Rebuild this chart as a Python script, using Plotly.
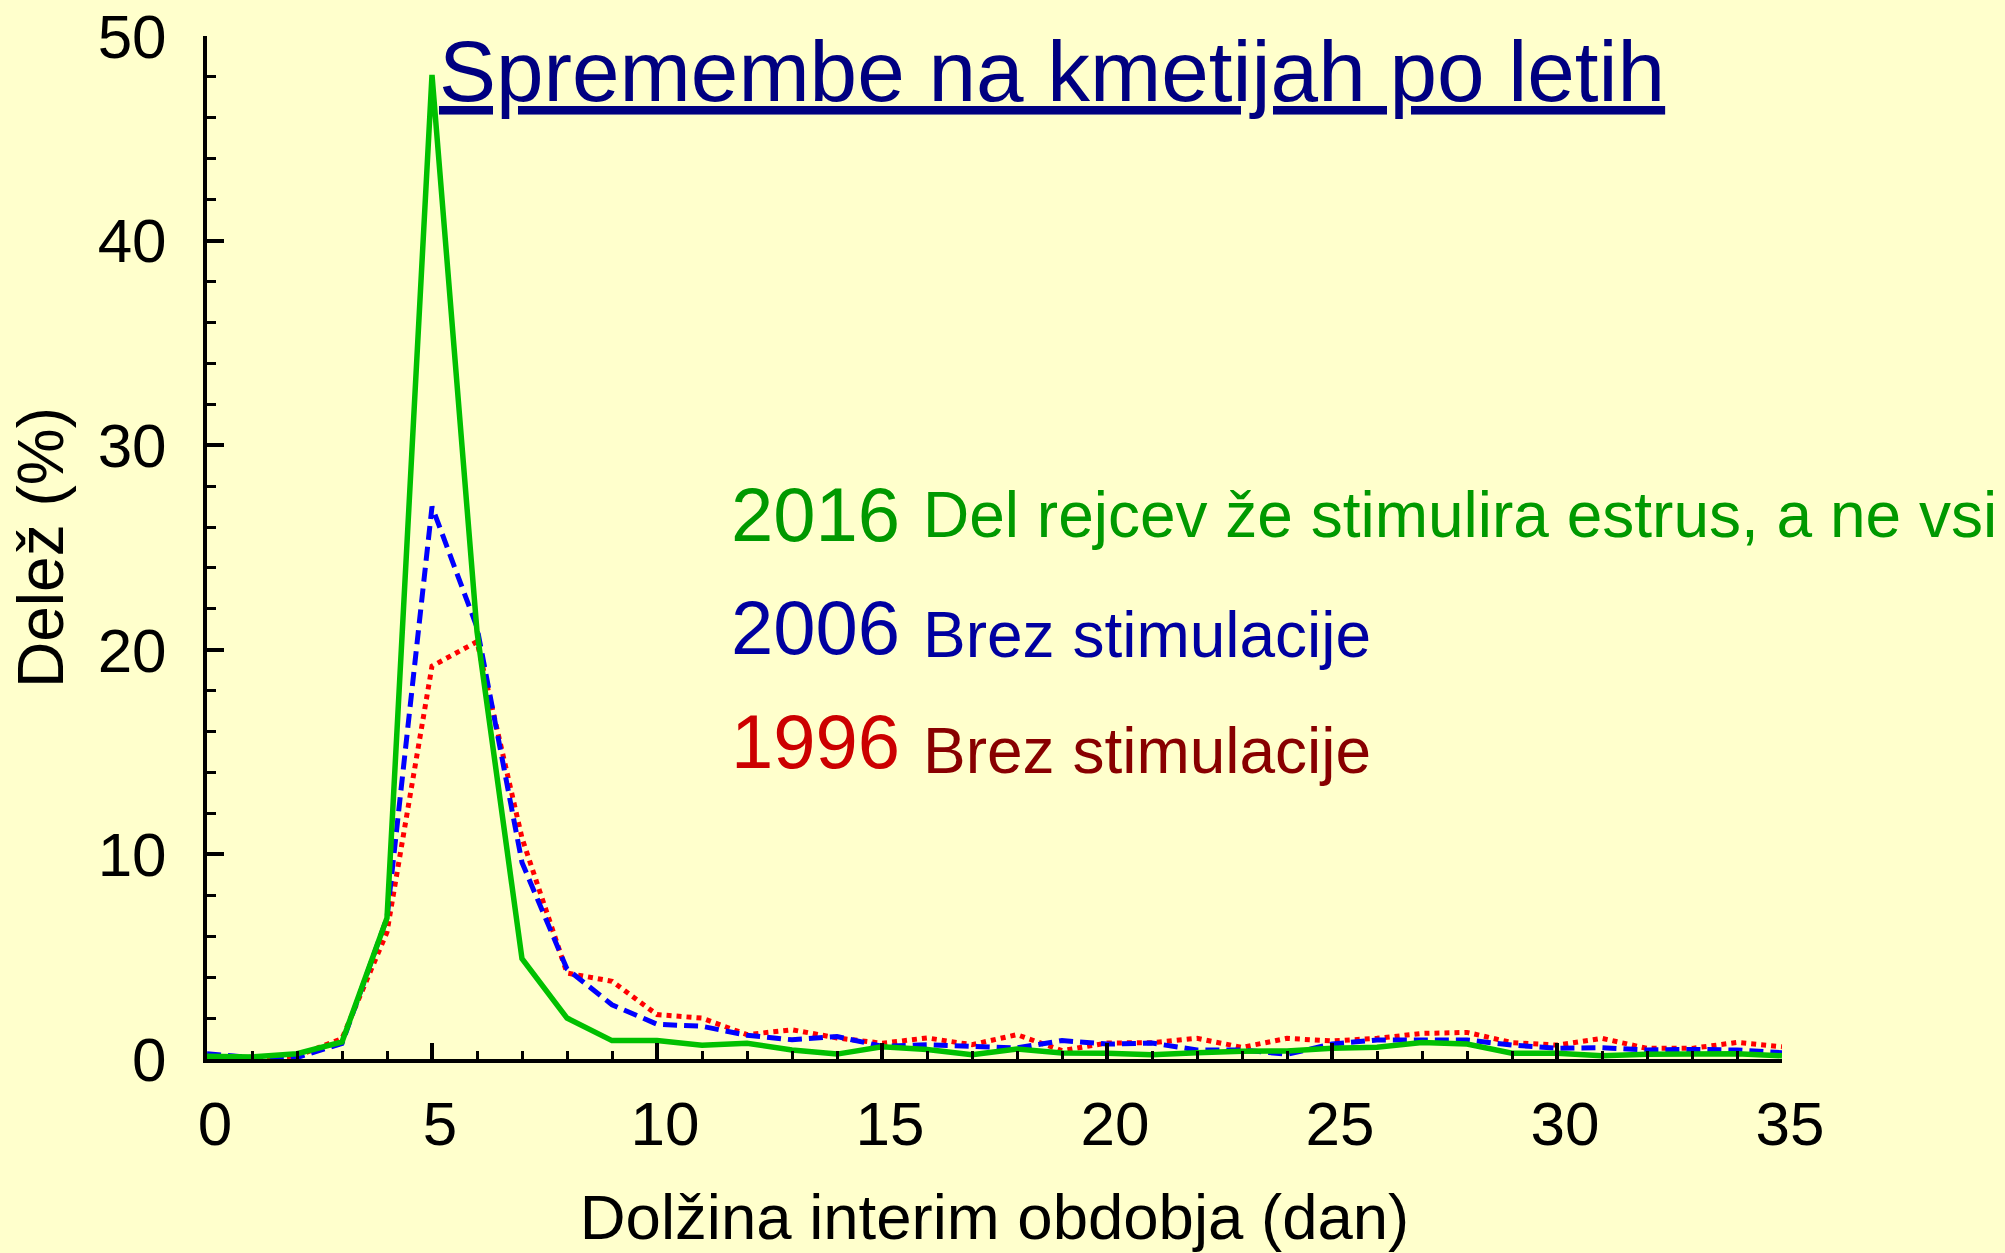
import plotly.graph_objects as go

# Data
days = list(range(0, 36))
y2016 = [0.13, 0.10, 0.26, 0.83, 6.9, 48.1, 20.9, 4.9, 2.0, 0.9, 0.9, 0.67, 0.77, 0.44, 0.24, 0.60,
         0.46, 0.21, 0.49, 0.29, 0.28, 0.21, 0.30, 0.38, 0.39, 0.52, 0.57, 0.81, 0.73, 0.28, 0.28,
         0.16, 0.23, 0.26, 0.26, 0.16]
y2006 = [0.26, 0.07, 0.07, 0.76, 6.9, 27.0, 21.1, 9.6, 4.4, 2.65, 1.7, 1.6, 1.16, 0.94, 1.1, 0.62,
         0.70, 0.62, 0.54, 0.90, 0.73, 0.78, 0.44, 0.44, 0.23, 0.73, 0.93, 0.93, 0.93, 0.68, 0.52,
         0.55, 0.44, 0.47, 0.44, 0.31]
y1996 = [0.10, 0.05, 0.15, 1.0, 6.2, 19.2, 20.4, 10.8, 4.2, 3.8, 2.17, 2.0, 1.19, 1.43, 1.03, 0.77,
         1.03, 0.70, 1.19, 0.41, 0.78, 0.80, 1.01, 0.57, 1.01, 0.88, 1.01, 1.25, 1.30, 0.80, 0.68,
         1.01, 0.52, 0.52, 0.81, 0.60]

x_ticks = [0, 5, 10, 15, 20, 25, 30, 35]
y_ticks = [0, 10, 20, 30, 40, 50]

title_text = "Spremembe na kmetijah po letih"
x_title = "Dolžina interim obdobja (dan)"
y_title = "Delež (%)"
labels = [
    ("2016", "Del rejcev že stimulira estrus, a ne vsi", "#009900", "#009900"),
    ("2006", "Brez stimulacije", "#0000a0", "#0000a0"),
    ("1996", "Brez stimulacije", "#cc0000", "#880000"),
]

FONT = "Liberation Sans, Arial, sans-serif"
BG = "#ffffcc"

fig = go.Figure()
fig.add_trace(go.Scatter(x=days, y=y1996, mode="lines",
                         line=dict(color="#ff0000", width=5, dash="5px,5px")))
fig.add_trace(go.Scatter(x=days, y=y2006, mode="lines",
                         line=dict(color="#0000ff", width=5, dash="14px,7px")))
fig.add_trace(go.Scatter(x=days, y=y2016, mode="lines",
                         line=dict(color="#00c000", width=5.5)))

W, H = 2005, 1253
L, R, T, B = 207, 223, 36, 194
pw = W - L - R
ph = H - T - B


def px(xp):
    return (xp - L) / pw


def py(yp):
    return (H - B - yp) / ph


fig.update_layout(
    width=W, height=H, autosize=False,
    margin=dict(l=L, r=R, t=T, b=B, pad=0, autoexpand=False),
    paper_bgcolor=BG, plot_bgcolor=BG,
    showlegend=False,
    font=dict(family=FONT, color="black"),
    xaxis=dict(
        range=[0, 35], tickvals=x_ticks, ticktext=[str(v) for v in x_ticks],
        automargin=False,
        ticks="inside", ticklen=16, tickwidth=3.5, tickcolor="black",
        showline=True, linewidth=4, linecolor="black", mirror=False,
        showgrid=False, zeroline=False,
        tickfont=dict(size=62, family=FONT, color="black"),
        ticklabelstandoff=8, ticklabelshift=8,
        minor=dict(dtick=1, ticks="inside", ticklen=8, tickwidth=3, tickcolor="black", showgrid=False),
        title=dict(text=x_title, font=dict(size=63.5, family=FONT, color="black"), standoff=38),
    ),
    yaxis=dict(
        range=[0, 50], tickvals=y_ticks, ticktext=[str(v) for v in y_ticks],
        automargin=False,
        ticks="inside", ticklen=17, tickwidth=3.5, tickcolor="black",
        showline=True, linewidth=4, linecolor="black", mirror=False,
        showgrid=False, zeroline=False,
        tickfont=dict(size=62, family=FONT, color="black"),
        ticklabelstandoff=24,
        minor=dict(dtick=2, ticks="inside", ticklen=9, tickwidth=3, tickcolor="black", showgrid=False),
        title=dict(text=y_title, font=dict(size=64, family=FONT, color="black"), standoff=14),
    ),
)

annotations = [
    dict(text="<u>" + title_text + "</u>", xref="paper", yref="paper",
         x=px(1052), y=py(72), xanchor="center", yanchor="middle", showarrow=False,
         font=dict(size=85.5, family=FONT, color="#000080")),
]
year_y = [514, 628, 741]
desc_y = [515, 635, 751]
for (yr, desc, c1, c2), yy, dy in zip(labels, year_y, desc_y):
    annotations.append(dict(text=yr, xref="paper", yref="paper", x=px(729), y=py(yy),
                            xanchor="left", yanchor="middle", showarrow=False,
                            font=dict(size=76, family=FONT, color=c1)))
    annotations.append(dict(text=desc, xref="paper", yref="paper", x=px(921), y=py(dy),
                            xanchor="left", yanchor="middle", showarrow=False,
                            font=dict(size=64, family=FONT, color=c2)))
fig.update_layout(annotations=annotations)

fig.write_html(
    "out.html",
    config={"displayModeBar": False},
    post_script="document.body.style.margin='0';document.body.style.padding='0';"
                "document.body.style.background='#ffffcc';document.body.style.overflow='hidden';",
)
